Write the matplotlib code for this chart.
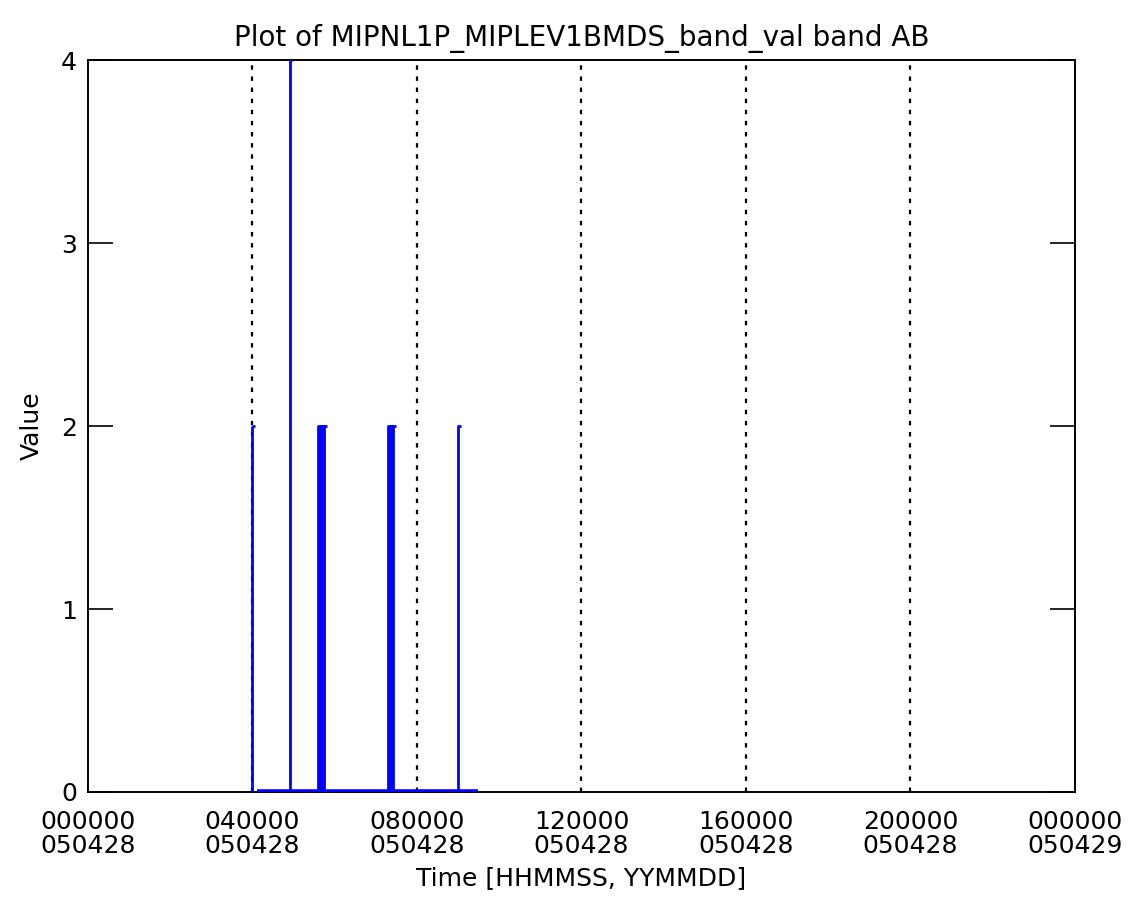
import matplotlib
matplotlib.use("Agg")
import matplotlib.pyplot as plt

# time axis in hours of 2005-04-28
tick_hours = [0, 4, 8, 12, 16, 20, 24]
tick_labels = ["000000\n050428", "040000\n050428", "080000\n050428", "120000\n050428",
               "160000\n050428", "200000\n050428", "000000\n050429"]
grid_hours = [4, 8, 12, 16, 20]

# spikes (hour, value)
spike_hours = [4.00, 4.91, 5.60, 5.65, 5.70, 5.75, 7.30, 7.34, 7.38, 7.42, 9.00]
spike_vals = [2, 4, 2, 2, 2, 2, 2, 2, 2, 2, 2]
base_start, base_end = 4.10, 9.48

plt.rcParams['font.family'] = ['DejaVu Sans']
fig = plt.figure(figsize=(11.32, 9.07), dpi=100)
ax = fig.add_axes([0.0777, 0.1268, 0.8719, 0.807])

for h in grid_hours:
    ax.axvline(h, color='black', linestyle=(0, (2, 3)), linewidth=1.6, zorder=1)

ax.vlines(spike_hours, 0, spike_vals, color='blue', linewidth=2, zorder=3)
ax.hlines(spike_vals, [h - 0.02 for h in spike_hours], [h + 0.06 for h in spike_hours],
          color='blue', linewidth=2, zorder=3)
ax.hlines(0, base_start, base_end, color='blue', linewidth=4, zorder=3)

ax.set_xlim(0, 24)
ax.set_ylim(0, 4)
ax.set_xticks(tick_hours)
ax.set_xticklabels(tick_labels, fontsize=18, linespacing=1.0)
ax.set_yticks([0, 1, 2, 3, 4])
ax.set_yticklabels(['0', '1', '2', '3', '4'], fontsize=18)
ax.tick_params(axis='x', length=0, pad=13)
ax.tick_params(axis='y', direction='in', length=18, width=1.2, right=True, pad=8)
for s in ax.spines.values():
    s.set_linewidth(1.4)

ax.set_title("Plot of MIPNL1P_MIPLEV1BMDS_band_val band AB", fontsize=20, pad=10)
ax.set_xlabel("Time [HHMMSS, YYMMDD]", fontsize=18, labelpad=6)
ax.set_ylabel("Value", fontsize=18, labelpad=12)

fig.savefig("out.png", dpi=100)
